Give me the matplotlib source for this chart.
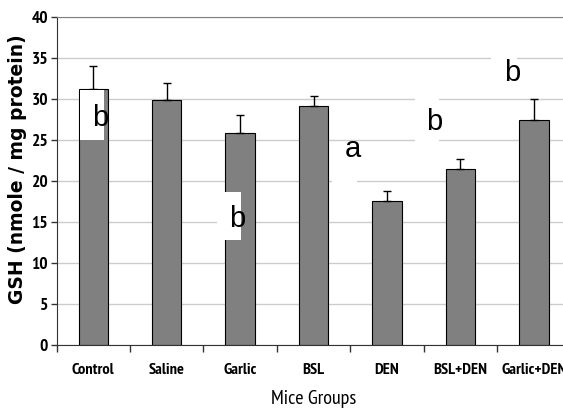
import numpy as np
import matplotlib.pyplot as plt
from matplotlib.patches import Rectangle

groups = ['Control', 'Saline', 'Garlic', 'BSL', 'DEN', 'BSL+DEN', 'Garlic+DEN']
gsh = [31.3, 29.9, 25.8, 29.2, 17.6, 21.5, 27.5]
gsh_err = [2.8, 2.1, 2.3, 1.2, 1.2, 1.2, 2.5]

# significance letters: (x in category units, y, letter)
sig_x = [0.095, 1.96, 3.53, 4.644, 5.707]
sig_y = [27.7, 15.4, 23.9, 27.2, 33.2]
sig_txt = ['b', 'b', 'a', 'b', 'b']

# white boxes behind the letters: (x0, x1, y0, y1)
box_x0 = [-0.175, 1.683, 3.252, 4.381, 5.41]
box_x1 = [0.15, 2.014, 3.592, 4.707, 5.77]
box_y0 = [25.0, 12.8, 19.4, 24.5, 30.3]
box_y1 = [31.1, 18.7, 24.7, 30.5, 35.5]

narrow = ['Liberation Sans Narrow', 'PT Sans Narrow', 'Archivo Narrow',
          'Roboto Condensed', 'Liberation Sans', 'DejaVu Sans']
plt.rcParams['font.family'] = ['Liberation Sans', 'DejaVu Sans']

fig = plt.figure(figsize=(5.63, 4.11), dpi=100)
ax = fig.add_axes([0.1004, 0.1618, 0.913, 0.796])

x = np.arange(len(groups))
ax.bar(x, gsh, width=0.4, color='#808080', edgecolor='black', linewidth=0.8, zorder=2)
ax.errorbar(x, gsh, yerr=[np.zeros(len(gsh)), gsh_err], fmt='none',
            ecolor='black', elinewidth=1.0, capsize=3, capthick=1.0, zorder=3)

for x0, x1, y0, y1 in zip(box_x0, box_x1, box_y0, box_y1):
    ax.add_patch(Rectangle((x0, y0), x1 - x0, y1 - y0, facecolor='white',
                           edgecolor='none', zorder=4))
for sx, sy, t in zip(sig_x, sig_y, sig_txt):
    ax.text(sx, sy, t, fontsize=21, ha='center', va='center', zorder=5)

ax.set_xlim(-0.5, 6.5)
ax.set_ylim(0, 40)
ax.set_yticks(np.arange(0, 41, 5))
ax.yaxis.grid(True, color='#cccccc', linewidth=1.0, zorder=0)
ax.set_axisbelow(True)

ax.set_xticks(x)
ax.set_xticklabels(groups, fontsize=11.8, fontweight='bold', family=narrow)
ax.set_xticks(np.arange(-0.5, 7, 1), minor=True)
ax.tick_params(axis='x', which='major', length=0, pad=13)
ax.tick_params(axis='x', which='minor', length=5, width=1, color='#333333')
ax.tick_params(axis='y', length=4, width=1, color='#333333', pad=2)
ax.set_yticklabels([str(v) for v in range(0, 41, 5)], fontsize=12.5,
                   fontweight='bold', family=narrow)

ax.spines['left'].set_color('#333333')
ax.spines['bottom'].set_color('#333333')
ax.spines['top'].set_color('#808080')
ax.spines['right'].set_visible(False)

ax.set_ylabel('GSH (nmole / mg protein)', fontsize=13.5, fontweight='bold',
              family='DejaVu Sans')
ax.yaxis.set_label_coords(-0.058, 0.535)
ax.set_xlabel('Mice Groups', fontsize=14.5, family=narrow)
ax.xaxis.set_label_coords(0.5, -0.138)

fig.savefig('out.png', dpi=100)
